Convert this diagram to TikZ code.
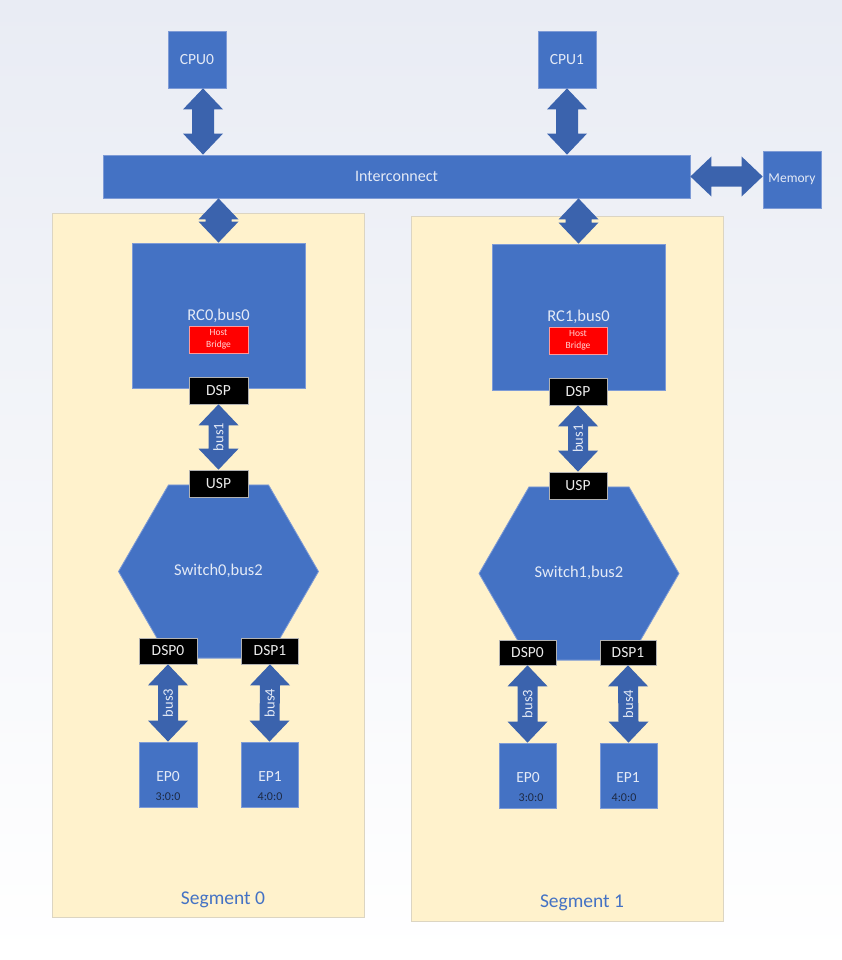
\documentclass[tikz,border=0pt]{standalone}
\usepackage{fontspec}
\setmainfont{Carlito}
\usetikzlibrary{calc}
\definecolor{ublue}{HTML}{4472C4}
\definecolor{uedge}{HTML}{7E9BD6}
\definecolor{arrowc}{HTML}{3B63AD}
\definecolor{segfill}{HTML}{FFF2CC}
\definecolor{segedge}{HTML}{DCD5C2}
\definecolor{txtl}{HTML}{E4EAF6}
\definecolor{bgtop}{HTML}{E9ECF4}
\definecolor{epnum}{HTML}{1E2A44}
\definecolor{hbtxt}{HTML}{FFD6D6}
\newcommand\fsz[2]{\fontsize{#1}{#2}\selectfont}
% vertical fat double arrow: #1 top point, #2 bottom point, #3 shaft half width
\newcommand\vfat[3]{%
  \fill[arrowc] (#1) -- ($(#1)+(20,21)$) -- ($(#1)+(#3,21)$) -- ($(#2)+(#3,-21)$)
    -- ($(#2)+(20,-21)$) -- (#2) -- ($(#2)+(-20,-21)$) -- ($(#2)+(-#3,-21)$)
    -- ($(#1)+(-#3,21)$) -- ($(#1)+(-20,21)$) -- cycle;}
% horizontal fat double arrow: #1 left point, #2 right point, #3 shaft half width
\newcommand\hfat[3]{%
  \fill[arrowc] (#1) -- ($(#1)+(21,-20)$) -- ($(#1)+(21,-#3)$) -- ($(#2)+(-21,-#3)$)
    -- ($(#2)+(-21,-20)$) -- (#2) -- ($(#2)+(-21,20)$) -- ($(#2)+(-21,#3)$)
    -- ($(#1)+(21,#3)$) -- ($(#1)+(21,20)$) -- cycle;}
\tikzset{
  box/.style={rectangle, fill=ublue, draw=uedge, line width=0.8pt, text=txtl,
    inner sep=0pt, font=\fsz{15.5}{18}},
  sz/.style 2 args={minimum width=#1pt, minimum height=#2pt},
  seg/.style={rectangle, fill=segfill, draw=segedge, line width=1pt, inner sep=0pt},
  seglbl/.style={text=ublue, font=\fsz{19.5}{22}},
  port/.style={rectangle, fill=black, draw=gray!60, line width=0.6pt, text=white!92!black,
    inner sep=0pt, font=\fsz{15.5}{18}},
  hb/.style={rectangle, fill=red, draw=red!40, line width=0.6pt, text=hbtxt,
    inner sep=0pt, align=center, font=\fsz{9.5}{12}},
  hex/.style={fill=ublue, draw=uedge, line width=0.8pt},
  plain/.style={text=txtl, inner sep=0pt, font=\fsz{15.5}{18}},
  buslbl/.style={text=txtl, inner sep=0pt, font=\fsz{14.5}{16}, rotate=90},
  epn/.style={text=epnum, inner sep=0pt, font=\fsz{12}{14}},
}
\begin{document}
\begin{tikzpicture}[x=1pt,y=-1pt]
\useasboundingbox (0,0) rectangle (842,960);
\shade[top color=bgtop, bottom color=white] (0,0) rectangle (842,960);

% segments
\node[seg, sz={312}{704}] (seg0) at (208,565) {};
\node[seg, sz={312}{705}] (seg1) at (567,568.5) {};
\node[seglbl] (seg0l) at (223,900) {Segment 0};
\node[seglbl] (seg1l) at (582,903) {Segment 1};

% top level
\node[box, sz={58}{57}] (cpu0) at (197,59.5) {CPU0};
\node[box, sz={58}{57}] (cpu1) at (567,59.5) {CPU1};
\node[box, sz={587}{43}, font=\fsz{16}{18}] (ic) at (396.5,176.5) {Interconnect};
\node[box, sz={58}{57}, font=\fsz{13.5}{15}] (mem) at (792,179.5) {Memory};

% root complexes
\node[box, sz={173}{145}, font=\fsz{16.5}{18}] (rc0) at (218.5,315.5) {RC0,bus0};
\node[box, sz={173}{146}, font=\fsz{16.5}{18}] (rc1) at (578.5,317) {RC1,bus0};
\node[hb, sz={59}{27}] (hb0) at (218.5,339.5) {Host\\Bridge};
\node[hb, sz={58}{27}] (hb1) at (578,340.5) {Host\\Bridge};

% switches
\path[hex] (168.5,484.9) -- (268.5,484.9) -- (318.5,571.5) -- (268.5,658.1)
  -- (168.5,658.1) -- (118.5,571.5) -- cycle;
\path[hex] (529,486.9) -- (629,486.9) -- (679,573.5) -- (629,660.1)
  -- (529,660.1) -- (479,573.5) -- cycle;
\node[plain, font=\fsz{16.5}{18}] (sw0) at (218.5,571) {Switch0,bus2};
\node[plain, font=\fsz{16.5}{18}] (sw1) at (579,573) {Switch1,bus2};

% ports
\node[port, sz={59}{27}] (dspA) at (218.5,390.5) {DSP};
\node[port, sz={59}{27}] (uspA) at (218.5,483.5) {USP};
\node[port, sz={58}{27}] (dspB) at (578,391.5) {DSP};
\node[port, sz={58}{27}] (uspB) at (578,485.5) {USP};
\node[port, sz={58}{26}] (dsp00) at (168,651) {DSP0};
\node[port, sz={57}{26}] (dsp01) at (270,651) {DSP1};
\node[port, sz={57}{25}] (dsp10) at (527.5,652.5) {DSP0};
\node[port, sz={56}{25}] (dsp11) at (628,652.5) {DSP1};

% endpoints
\node[box, sz={58}{65}] (ep00) at (168,774.5) {};
\node[box, sz={57}{65}] (ep01) at (269.5,774.5) {};
\node[box, sz={57}{65}] (ep10) at (527.5,775.5) {};
\node[box, sz={57}{65}] (ep11) at (628.5,775.5) {};
\node[plain] (ep00t) at (168,777) {EP0};
\node[epn] (ep00n) at (168,797) {3:0:0};
\node[plain] (ep01t) at (270,777) {EP1};
\node[epn] (ep01n) at (270,797) {4:0:0};
\node[plain] (ep10t) at (528,778) {EP0};
\node[epn] (ep10n) at (531,798) {3:0:0};
\node[plain] (ep11t) at (628,778) {EP1};
\node[epn] (ep11n) at (624,798) {4:0:0};

% connector helper coordinates
\coordinate (c0t) at ($(cpu0.south)+(6,0)$);
\coordinate (c0b) at (c0t |- ic.north);
\coordinate (c1b) at (cpu1.south |- ic.north);
\coordinate (r0t) at (rc0.north |- ic.south);
\coordinate (r1t) at (rc1.north |- ic.south);
\coordinate (mw) at (mem.west |- ic.east);

% connectors
\vfat{c0t}{c0b}{11}
\vfat{cpu1.south}{c1b}{11}
\vfat{r0t}{rc0.north}{13}
\vfat{r1t}{rc1.north}{13}
\hfat{ic.east}{mw}{10}
\vfat{dspA.south}{uspA.north}{10}
\vfat{dspB.south}{uspB.north}{10}
\vfat{dsp00.south}{ep00.north}{10}
\vfat{dsp01.south}{ep01.north}{10}
\vfat{dsp10.south}{ep10.north}{10}
\vfat{dsp11.south}{ep11.north}{10}

% bus labels
\node[buslbl] (b1a) at ($(dspA.south)!0.5!(uspA.north)$) {bus1};
\node[buslbl] (b1b) at ($(dspB.south)!0.5!(uspB.north)$) {bus1};
\node[buslbl] (b3a) at ($(dsp00.south)!0.5!(ep00.north)$) {bus3};
\node[buslbl] (b4a) at ($(dsp01.south)!0.5!(ep01.north)$) {bus4};
\node[buslbl] (b3b) at ($(dsp10.south)!0.5!(ep10.north)$) {bus3};
\node[buslbl] (b4b) at ($(dsp11.south)!0.5!(ep11.north)$) {bus4};
\end{tikzpicture}
\end{document}
